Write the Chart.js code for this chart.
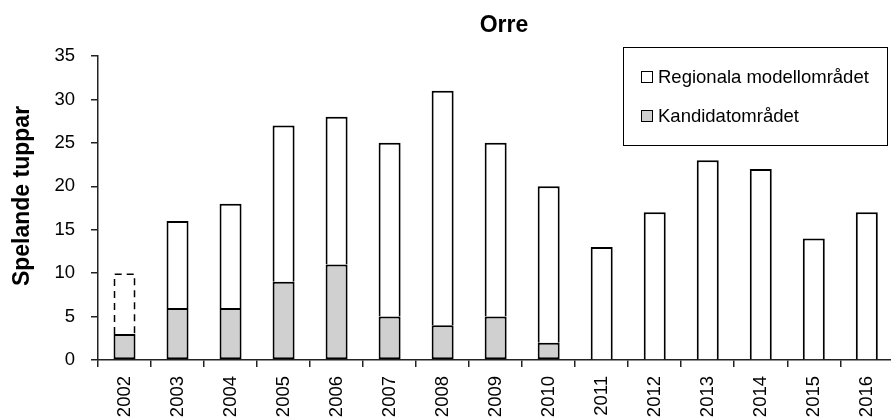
<!DOCTYPE html>
<html lang="sv">
<head>
  <meta charset="UTF-8">
  <title>Orre</title>
  <script src="https://cdn.jsdelivr.net/npm/chart.js"></script>
  <style>
    body {
      margin: 0;
      overflow: hidden;
      background: #fff;
    }
  </style>
</head>
<body>
  <!-- plot runs a few px past the right edge, like the original -->
  <canvas id="myChart" width="898" height="417"></canvas>

  <script>
    // data
    var years = ['2002', '2003', '2004', '2005', '2006', '2007', '2008', '2009',
                 '2010', '2011', '2012', '2013', '2014', '2015', '2016'];
    var kandidat = [3, 6, 6, 9, 11, 5, 4, 5, 2, 0, 0, 0, 0, 0, 0];
    var regional = [7, 10, 12, 18, 17, 20, 27, 20, 18, 13, 17, 23, 22, 14, 17];
    var dashedYears = ['2002']; // regional part drawn with a dashed outline
    var seriesNames = ['Kandidatområdet', 'Regionala modellområdet'];
    var chartTitle = 'Orre';
    var yTitle = 'Spelande tuppar';

    var FONT = '"Liberation Sans", Arial, sans-serif';

    // chart title and y title, placed where the original has them
    var titlePlugin = {
      id: 'plotTitles',
      afterDraw: function (chart) {
        var ctx = chart.ctx;
        ctx.save();
        ctx.fillStyle = '#000';
        ctx.textAlign = 'center';
        ctx.textBaseline = 'middle';
        ctx.font = 'bold 23px ' + FONT;
        ctx.fillText(chartTitle, 504, 26);
        ctx.translate(23, 196);
        ctx.rotate(-Math.PI / 2);
        ctx.fillText(yTitle, 0, 0);
        ctx.restore();
      }
    };

    // boxed legend inside the plot, top right
    var legendPlugin = {
      id: 'boxLegend',
      afterDraw: function (chart) {
        var ctx = chart.ctx;
        ctx.save();
        ctx.fillStyle = '#fff';
        ctx.fillRect(623, 47, 264, 98);
        ctx.strokeStyle = '#000';
        ctx.lineWidth = 1;
        ctx.strokeRect(623.5, 47.5, 264, 98);
        ctx.font = '18.5px ' + FONT;
        ctx.textBaseline = 'middle';
        // top entry is the top of the stack
        var order = [1, 0];
        order.forEach(function (di, row) {
          var ds = chart.data.datasets[di];
          var cy = 77 + row * 39;
          ctx.fillStyle = ds.backgroundColor;
          ctx.fillRect(641.5, cy - 5.5, 11, 11);
          ctx.strokeStyle = '#000';
          ctx.strokeRect(641.5, cy - 5.5, 11, 11);
          ctx.fillStyle = '#000';
          ctx.fillText(ds.label, 658, cy + 1);
        });
        ctx.restore();
      }
    };

    // dashed outline for the uncertain bar(s)
    var dashPlugin = {
      id: 'dashedBars',
      afterDatasetsDraw: function (chart) {
        var ctx = chart.ctx;
        var meta = chart.getDatasetMeta(1);
        ctx.save();
        ctx.strokeStyle = '#000';
        ctx.lineWidth = 1.5;
        ctx.setLineDash([7, 5]);
        dashedYears.forEach(function (yr) {
          var i = years.indexOf(yr);
          var p = meta.data[i].getProps(['x', 'y', 'width', 'base'], true);
          var l = p.x - p.width / 2 + 1, r = p.x + p.width / 2 - 1;
          ctx.beginPath();
          ctx.moveTo(l, p.base);
          ctx.lineTo(l, p.y + 1);
          ctx.lineTo(r, p.y + 1);
          ctx.lineTo(r, p.base);
          ctx.stroke();
        });
        ctx.restore();
      }
    };

    var regionalBorder = years.map(function (y) {
      return dashedYears.indexOf(y) >= 0 ? 'rgba(0,0,0,0)' : '#000';
    });

    new Chart(document.getElementById('myChart'), {
      type: 'bar',
      data: {
        labels: years,
        datasets: [{
          label: seriesNames[0],
          data: kandidat,
          backgroundColor: '#d0d0d0',
          borderColor: '#000',
          borderWidth: 2,
          borderSkipped: false
        }, {
          label: seriesNames[1],
          data: regional,
          backgroundColor: '#fff',
          borderColor: regionalBorder,
          borderWidth: 2
        }]
      },
      options: {
        responsive: false,
        animation: false,
        layout: { padding: { top: 56, left: 0, right: 0, bottom: 0 } },
        datasets: {
          bar: { categoryPercentage: 1, barPercentage: 0.415 }
        },
        plugins: {
          legend: { display: false },
          tooltip: { enabled: false }
        },
        scales: {
          x: {
            stacked: true,
            afterFit: function (scale) { scale.height = 57; },
            grid: { display: true, drawOnChartArea: false, offset: true, color: '#222', lineWidth: 1.5, tickLength: 7 },
            border: { color: '#222', width: 1.5 },
            ticks: {
              color: '#000',
              font: { family: FONT, size: 18.5 },
              minRotation: 90,
              maxRotation: 90,
              padding: 9,
              autoSkip: false
            }
          },
          y: {
            stacked: true,
            min: 0,
            max: 35,
            afterFit: function (scale) { scale.width = 98; },
            grid: { display: true, drawOnChartArea: false, color: '#222', lineWidth: 1.5, tickLength: 7 },
            border: { color: '#222', width: 1.5 },
            ticks: {
              stepSize: 5,
              color: '#000',
              font: { family: FONT, size: 18.5 },
              padding: 16
            }
          }
        }
      },
      plugins: [titlePlugin, legendPlugin, dashPlugin]
    });
  </script>
</body>
</html>
